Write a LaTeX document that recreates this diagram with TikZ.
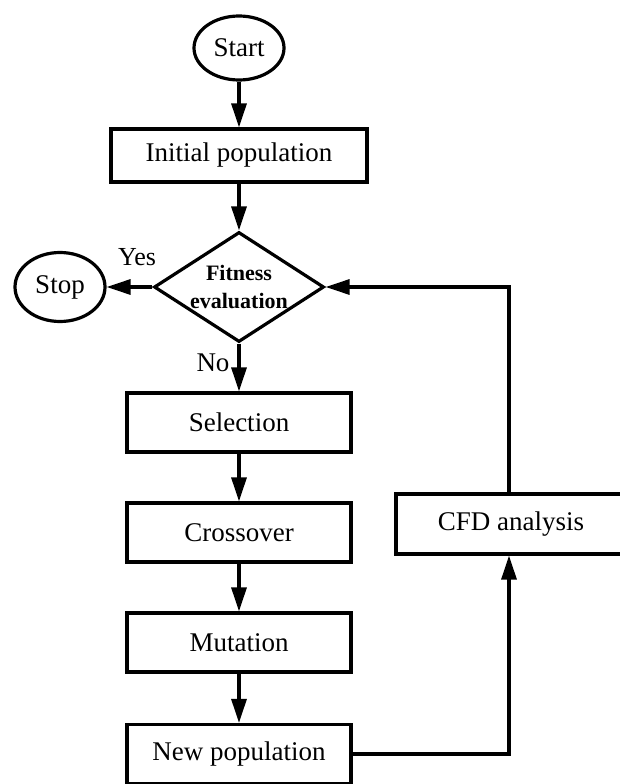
\documentclass[tikz,border=0pt]{standalone}
\usepackage{fontspec}
\setmainfont{Liberation Serif}
\usetikzlibrary{shapes.geometric,arrows.meta}
\begin{document}
\begin{tikzpicture}[x=1pt,y=1pt,
  every node/.style={font=\fontsize{27}{30}\selectfont},
  boxnode/.style={draw,line width=3.2pt,minimum width=224pt,minimum height=59pt,inner sep=0pt},
  ovalnode/.style={draw,ellipse,line width=3.2pt,inner sep=0pt},
  decnode/.style={draw,diamond,line width=3.2pt,minimum width=170pt,minimum height=110pt,inner sep=0pt,aspect=1.54},
  conn/.style={line width=3.2pt,-{Triangle[length=24pt,width=15pt]}},
  plainline/.style={line width=3.2pt}]
\useasboundingbox (0,0) rectangle (620,-784);
\fill[white] (0,0) rectangle (620,-784);
\node[ovalnode,minimum width=90pt,minimum height=64pt] (start) at (239,-48) {Start};
\node[boxnode,minimum width=256pt,minimum height=53pt] (init) at (239,-155.5) {Initial population};
\node[decnode] (fit) at (239,-287) {};
\node[align=center,font=\fontsize{22}{28}\selectfont\bfseries] (fittext) at (239,-287) {Fitness\\evaluation};
\node[ovalnode,minimum width=90pt,minimum height=69pt] (stop) at (60,-287) {Stop};
\node[boxnode] (sel) at (239,-422.5) {Selection};
\node[boxnode] (cross) at (239,-532.5) {Crossover};
\node[boxnode] (mut) at (239,-642.5) {Mutation};
\node[boxnode] (newpop) at (239,-754) {New population};
\node[boxnode,minimum width=230pt,minimum height=60pt] (cfd) at (511,-524) {CFD analysis};
\node[font=\fontsize{26}{30}\selectfont] (yes) at (137,-257) {Yes};
\node[font=\fontsize{27}{30}\selectfont] (no) at (213,-363) {No};
\draw[conn] (start) -- (init);
\draw[conn] (init) -- (fit.north);
\draw[conn] (fit.west) -- (stop);
\draw[conn] (fit.south) -- (sel);
\draw[conn] (sel) -- (cross);
\draw[conn] (cross) -- (mut);
\draw[conn] (mut) -- (newpop);
\draw[conn] (newpop.east) -| ([xshift=-2pt]cfd.south);
\draw[conn] ([xshift=-2pt]cfd.north) |- (fit.east);
\end{tikzpicture}
\end{document}
